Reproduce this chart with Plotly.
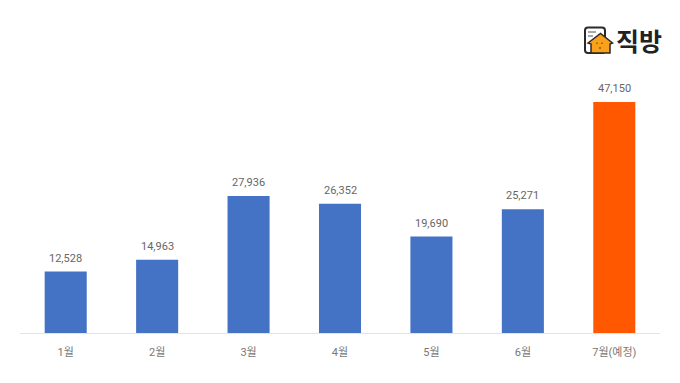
import plotly.graph_objects as go

months = ["1월", "2월", "3월", "4월", "5월", "6월", "7월(예정)"]
values = [12528, 14963, 27936, 26352, 19690, 25271, 47150]
bar_colors = ["#4472C4"] * 6 + ["#FF5800"]
FONT = "Roboto, Noto Sans CJK KR"
W, H = 680, 383
L, R, T, B = 20, 20, 38, 50


def px(x):
    return (x - L) / (W - L - R)


def py(y):
    return 1 - (y - T) / (H - T - B)


def pt(x, y):
    return f"{px(x):.5f},{py(y):.5f}"


def poly(points):
    return "M" + " L".join(pt(x, y) for x, y in points) + " Z"


def rrect(x0, y0, x1, y1, r):
    return (f"M{pt(x0 + r, y0)} L{pt(x1 - r, y0)} Q{pt(x1, y0)} {pt(x1, y0 + r)} "
            f"L{pt(x1, y1 - r)} Q{pt(x1, y1)} {pt(x1 - r, y1)} L{pt(x0 + r, y1)} "
            f"Q{pt(x0, y1)} {pt(x0, y1 - r)} L{pt(x0, y0 + r)} Q{pt(x0, y0)} {pt(x0 + r, y0)} Z")


fig = go.Figure(go.Bar(
    x=months, y=values, marker=dict(color=bar_colors, line=dict(width=0)),
    width=0.46, hoverinfo="skip",
))


def line(x0, y0, x1, y1, color, width):
    return dict(type="line", xref="paper", yref="paper", x0=px(x0), x1=px(x1), y0=py(y0), y1=py(y1),
                line=dict(color=color, width=width))


shapes = [
    dict(type="path", xref="paper", yref="paper", path=rrect(585, 27.5, 605, 53, 3),
         fillcolor="#ffffff", line=dict(color="#2A2A2A", width=2)),
    line(588, 32, 596, 32, "#555555", 1),
    line(588, 36, 593, 36, "#555555", 1),
    dict(type="path", xref="paper", yref="paper",
         path=poly([(588, 43), (600.5, 33.5), (612.5, 43), (610, 44), (610, 53), (591, 53), (591, 44)]),
         fillcolor="#F9A11B", line=dict(color="#2A2A2A", width=1.5)),
    line(597, 42.5, 597, 44, "#6B4A10", 1.2),
    line(602, 42.5, 602, 44, "#6B4A10", 1.2),
    line(600, 47, 600, 49, "#6B4A10", 1.2),
]

annotations = [dict(x=m, y=v, text=f"{v:,}", xref="x", yref="y", yanchor="bottom", yshift=5,
                    showarrow=False, font=dict(family=FONT, size=11, color="#666666"))
               for m, v in zip(months, values)]
annotations.append(dict(text="<b>직방</b>", xref="paper", yref="paper", x=px(639), y=py(40),
                        xanchor="center", yanchor="middle", showarrow=False,
                        font=dict(family="Noto Sans CJK KR", size=25, color="#222222")))

fig.update_layout(
    width=W, height=H, margin=dict(l=L, r=R, t=T, b=B, pad=0, autoexpand=False),
    paper_bgcolor="#ffffff", plot_bgcolor="#ffffff", showlegend=False,
    xaxis=dict(type="category", showgrid=False, ticks="outside", ticklen=9, tickcolor="rgba(0,0,0,0)",
               showline=True, linecolor="#E4E4E4", linewidth=1,
               tickfont=dict(family=FONT, size=11, color="#777777")),
    yaxis=dict(range=[0, 60200], visible=False),
    shapes=shapes,
    annotations=annotations,
)
fig.write_html("out.html", post_script="document.body.style.margin='0';",
               config=dict(displayModeBar=False))
